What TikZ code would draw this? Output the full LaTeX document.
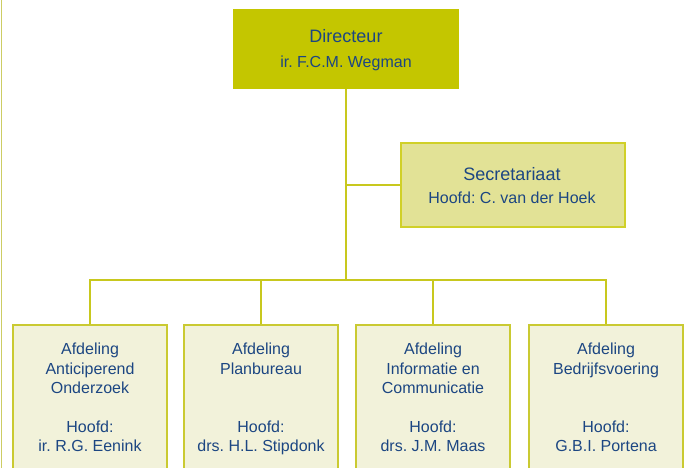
\documentclass[tikz,border=0pt]{standalone}
\usepackage{fontspec}
\setmainfont{Liberation Sans}
\frenchspacing
\definecolor{topfill}{RGB}{196,198,0}
\definecolor{secfill}{RGB}{226,226,150}
\definecolor{secedge}{RGB}{208,208,40}
\definecolor{depfill}{RGB}{242,242,218}
\definecolor{depedge}{RGB}{202,202,50}
\definecolor{wire}{RGB}{200,200,30}
\definecolor{ink}{RGB}{28,70,130}
\definecolor{edgeline}{RGB}{205,205,100}
\begin{document}
\begin{tikzpicture}[x=1pt,y=-1pt,
  box/.style={draw, rectangle, inner sep=0pt, line width=1.2pt},
  topbox/.style={box, fill=topfill, draw=topfill, minimum width=224pt, minimum height=78pt},
  secbox/.style={box, fill=secfill, draw=secedge, minimum width=224pt, minimum height=84pt},
  depbox/.style={box, fill=depfill, draw=depedge, minimum width=154pt, minimum height=160pt},
  big/.style={text=ink, anchor=base, inner sep=0pt, font=\fontsize{18}{21}\selectfont},
  small/.style={text=ink, anchor=base, inner sep=0pt, font=\fontsize{16}{19}\selectfont},
  conn/.style={draw=wire, line width=1.3pt}]
\useasboundingbox (0,0) rectangle (686,468);
\clip (0,0) rectangle (686,468);
\draw[edgeline, line width=0.8pt] (1,0) -- (1,468);

\node[topbox] (dir) at (346,49) {};
\node[secbox] (sec) at (513,185) {};
\node[depbox] (d1) at (90,405) {};
\node[depbox] (d2) at (261,405) {};
\node[depbox] (d3) at (433,405) {};
\node[depbox] (d4) at (606,405) {};

\coordinate (j) at (346,280);
\draw[conn] (dir.south) -- (j);
\draw[conn] (sec.west) -- (sec.west -| dir.south);
\draw[conn] (d1.north) |- (j) -| (d4.north);
\draw[conn] (d2.north) -- (d2.north |- j);
\draw[conn] (d3.north) -- (d3.north |- j);

\node[big] (t1) at (346,43) {Directeur};
\node[small] (t2) at (346,68) {ir. F.C.M. Wegman};
\node[big] (s1) at (512,181) {Secretariaat};
\node[small] (s2) at (512,204) {Hoofd: C. van der Hoek};

\node[small] (a1) at (90,354) {Afdeling};
\node[small] (a2) at (90,374) {Anticiperend};
\node[small] (a3) at (90,393) {Onderzoek};
\node[small] (a4) at (90,432) {Hoofd:};
\node[small] (a5) at (90,451) {ir. R.G. Eenink};

\node[small] (b1) at (261,354) {Afdeling};
\node[small] (b2) at (261,374) {Planbureau};
\node[small] (b4) at (261,432) {Hoofd:};
\node[small] (b5) at (261,451) {drs. H.L. Stipdonk};

\node[small] (c1) at (433,354) {Afdeling};
\node[small] (c2) at (433,374) {Informatie en};
\node[small] (c3) at (433,393) {Communicatie};
\node[small] (c4) at (433,432) {Hoofd:};
\node[small] (c5) at (433,451) {drs. J.M. Maas};

\node[small] (e1) at (606,354) {Afdeling};
\node[small] (e2) at (606,374) {Bedrijfsvoering};
\node[small] (e4) at (606,432) {Hoofd:};
\node[small] (e5) at (606,451) {G.B.I. Portena};
\end{tikzpicture}
\end{document}
